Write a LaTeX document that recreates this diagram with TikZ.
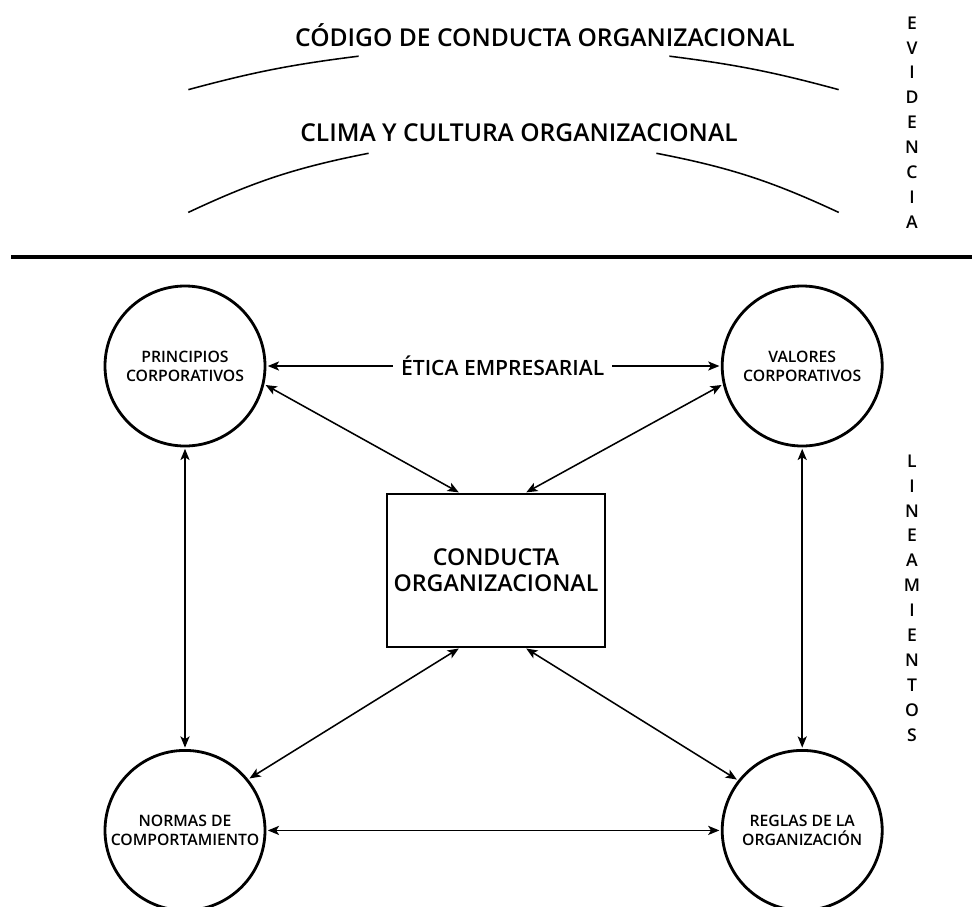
\documentclass[tikz,border=0pt]{standalone}
\usepackage{fontspec}
\setmainfont{Open Sans}[BoldFont={* Semibold}]
\usetikzlibrary{positioning, arrows.meta}

\begin{document}
\begin{tikzpicture}[>={Stealth[length=8pt, width=6.5pt, inset=2pt]}, shorten >=1pt, shorten <=1pt, line width=1.1pt,
  main node/.style={circle, draw, line width=2pt, minimum size=4cm, inner sep=0pt, align=center, font=\bfseries\fontsize{11.2}{13.6}\selectfont},
  box node/.style={rectangle, draw, line width=1.2pt, minimum width=5.45cm, minimum height=3.825cm, align=center, font=\bfseries\fontsize{16.5}{18.8}\selectfont},
  title node/.style={font=\bfseries\fontsize{17.5}{21}\selectfont},
  side node/.style={align=center, font=\bfseries\fontsize{12.5}{17.7}\selectfont}]

  \useasboundingbox (0,0) rectangle (24.325,-22.65);

  % Define nodes
  \node[main node] (prin) at (4.625,-9.15) {PRINCIPIOS\\CORPORATIVOS};
  \node[main node] (val) [right=11.36cm of prin] {VALORES\\CORPORATIVOS};
  \node[main node] (norm) [below=7.54cm of prin] {NORMAS DE\\COMPORTAMIENTO};
  \node[main node] (regl) [below=7.54cm of val] {REGLAS DE LA\\ORGANIZACIÓN};
  \node[box node] (cond) at (12.4,-14.26) {CONDUCTA\\ORGANIZACIONAL};

  % Top part
  \node[title node] (codigo) at (13.625,-0.875) {CÓDIGO DE CONDUCTA ORGANIZACIONAL};
  \node[title node] (clima) at (12.975,-3.325) {CLIMA Y CULTURA ORGANIZACIONAL};
  \node[side node] (evid) at (22.8,-3.06) {E\\V\\I\\D\\E\\N\\C\\I\\A};
  \node[side node] (lin) at (22.8,-14.95) {L\\I\\N\\E\\A\\M\\I\\E\\N\\T\\O\\S};

  \draw (4.675,-2.25) to[bend left=4] (9,-1.4);
  \draw (16.7,-1.4) to[bend left=4] (21,-2.25);
  \draw (4.675,-5.325) to[bend left=7] (9.25,-3.825);
  \draw (16.375,-3.825) to[bend left=7] (21,-5.325);
  \draw[line width=3pt] (0.25,-6.425) -- (24.325,-6.425);

  % Define edges
  \path[<->]
    (prin) edge node[fill=white, pos=0.52, inner xsep=0.2cm, inner ysep=2pt, font=\bfseries\fontsize{15}{18}\selectfont] (etica) {ÉTICA EMPRESARIAL} (val)
    (prin.-13) edge ([xshift=-0.9cm]cond.north)
    (val.-167) edge ([xshift=0.725cm]cond.north)
    (norm.39) edge ([xshift=-0.9cm]cond.south)
    (regl.142) edge ([xshift=0.725cm]cond.south)
    (prin) edge (norm)
    (val) edge (regl)
    (norm) edge (regl);
\end{tikzpicture}
\end{document}
